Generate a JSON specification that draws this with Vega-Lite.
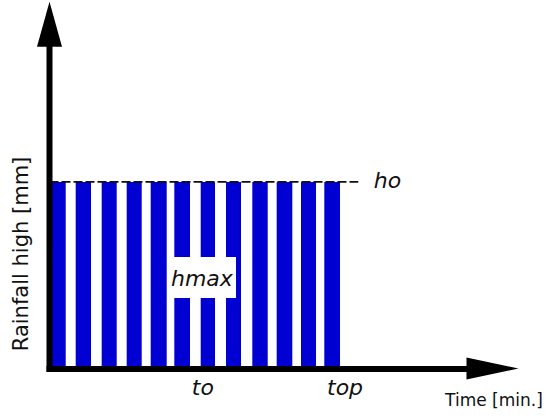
{
  "$schema": "https://vega.github.io/schema/vega-lite/v6.json",
  "width": 550,
  "height": 418,
  "autosize": "none",
  "padding": 0,
  "background": "white",
  "config": {"view": {"stroke": null}},
  "encoding": {
    "x": {"field": "t", "type": "quantitative", "scale": {"domain": [-1.988, 20.1], "nice": false, "zero": false}, "axis": null},
    "y": {"field": "h", "type": "quantitative", "scale": {"domain": [-2.62, 19.73], "nice": false, "zero": false}, "axis": null}
  },
  "layer": [
    {
      "data": {"values": [
        {"t": 0.03, "t2": 0.651, "h": 10, "h2": 0},
        {"t": 1.052, "t2": 1.667, "h": 10, "h2": 0},
        {"t": 2.096, "t2": 2.699, "h": 10, "h2": 0},
        {"t": 3.100, "t2": 3.703, "h": 10, "h2": 0},
        {"t": 4.064, "t2": 4.707, "h": 10, "h2": 0},
        {"t": 5.012, "t2": 5.643, "h": 10, "h2": 0},
        {"t": 6.072, "t2": 6.647, "h": 10, "h2": 0},
        {"t": 7.088, "t2": 7.691, "h": 10, "h2": 0},
        {"t": 8.145, "t2": 8.763, "h": 10, "h2": 0},
        {"t": 9.124, "t2": 9.751, "h": 10, "h2": 0},
        {"t": 10.100, "t2": 10.703, "h": 10, "h2": 0},
        {"t": 11.036, "t2": 11.667, "h": 10, "h2": 0}
      ]},
      "mark": {"type": "rect", "color": "#0000d2"},
      "encoding": {"x2": {"field": "t2"}, "y2": {"field": "h2"}}
    },
    {
      "data": {"values": [{"t": 0, "t2": 12.4, "h": 10}]},
      "mark": {"type": "rule", "color": "#111111", "strokeWidth": 1.8, "strokeDash": [9, 3]},
      "encoding": {"x2": {"field": "t2"}}
    },
    {
      "data": {"values": [{"t": 4.77, "t2": 7.49, "h": 3.80, "h2": 5.99}]},
      "mark": {"type": "rect", "color": "white"},
      "encoding": {"x2": {"field": "t2"}, "y2": {"field": "h2"}}
    },
    {
      "data": {"values": [
        {"t": 0, "t2": 0, "h": -0.15, "h2": 17.5},
        {"t": -0.12, "t2": 17.0, "h": 0, "h2": 0}
      ]},
      "mark": {"type": "rule", "color": "black", "strokeWidth": 6, "strokeCap": "butt"},
      "encoding": {"x2": {"field": "t2"}, "y2": {"field": "h2"}}
    },
    {
      "data": {"values": [{"t": 0, "h": 18.44}]},
      "mark": {"type": "point", "shape": "M0,-1L0.556,1L-0.556,1Z", "size": 2025, "filled": true, "color": "black", "opacity": 1, "strokeWidth": 0},
      "encoding": {}
    },
    {
      "data": {"values": [{"t": 17.79, "h": 0.03}]},
      "mark": {"type": "point", "shape": "M1,0L-1,-0.423L-1,0.423Z", "size": 2704, "filled": true, "color": "black", "opacity": 1, "strokeWidth": 0},
      "encoding": {}
    },
    {
      "data": {"values": [
        {"t": 6.12, "h": 4.81, "label": "hmax"},
        {"t": 13.57, "h": 10.05, "label": "ho"},
        {"t": 6.16, "h": -1.02, "label": "to"},
        {"t": 11.87, "h": -1.02, "label": "top"}
      ]},
      "mark": {"type": "text", "font": "DejaVu Sans", "fontStyle": "italic", "fontSize": 22, "align": "center", "baseline": "middle", "color": "#111111"},
      "encoding": {"text": {"field": "label"}}
    },
    {
      "data": {"values": [{"t": 17.85, "h": -1.72, "label": "Time [min.]"}]},
      "mark": {"type": "text", "font": "DejaVu Sans", "fontSize": 17, "align": "center", "baseline": "middle", "color": "#111111"},
      "encoding": {"text": {"field": "label"}}
    },
    {
      "data": {"values": [{"t": -1.124, "h": 6.15, "label": "Rainfall high [mm]"}]},
      "mark": {"type": "text", "font": "DejaVu Sans", "fontSize": 21, "angle": 270, "align": "center", "baseline": "middle", "color": "#111111"},
      "encoding": {"text": {"field": "label"}}
    }
  ]
}
